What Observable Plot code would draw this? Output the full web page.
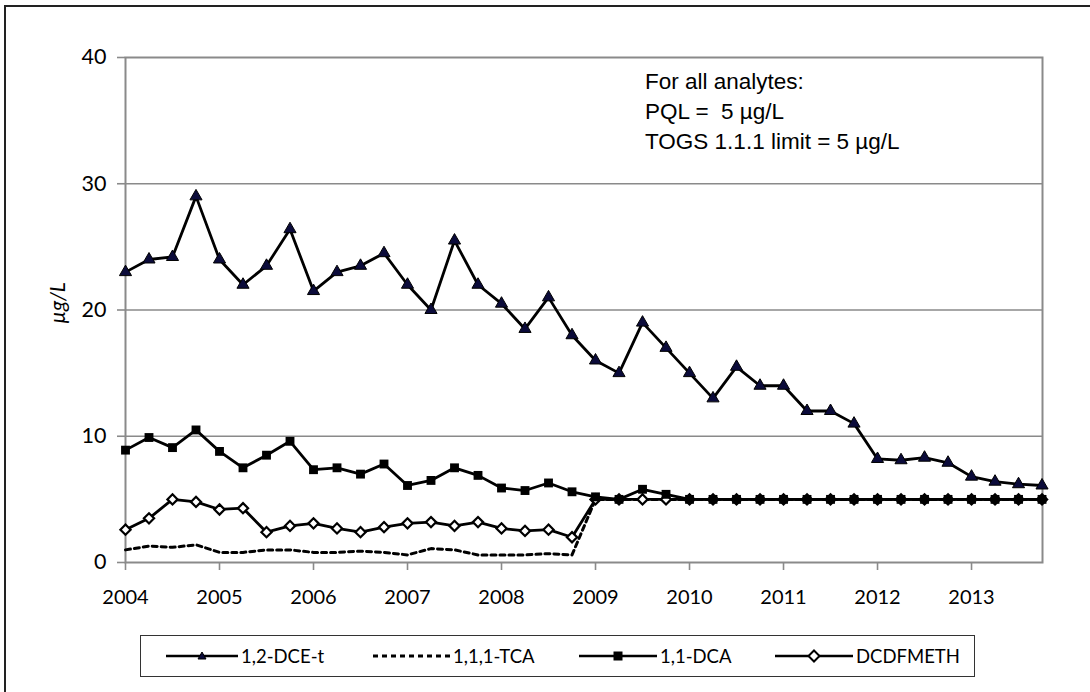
<!DOCTYPE html>
<html><head><meta charset="utf-8">
<script src="https://cdn.jsdelivr.net/npm/d3@7"></script>
<script src="https://cdn.jsdelivr.net/npm/@observablehq/plot@0.6"></script>
<style>
body{margin:0;background:#fff;}
#wrap{position:relative;width:1090px;height:692px;overflow:hidden;background:#fff;}
#outer{position:absolute;left:4px;top:5px;width:1200px;height:800px;border-left:2px solid #222;border-top:2px solid #222;}
#chart{position:absolute;left:0;top:0;}
#ylab{position:absolute;left:56px;top:303px;transform:translate(-50%,-50%) rotate(-90deg);font:italic 21px Lato;color:#000;white-space:nowrap;}
#note{position:absolute;left:645px;top:67px;font:22.5px "Liberation Sans",Arial,sans-serif;line-height:30px;white-space:pre;color:#000;}
#legend{position:absolute;left:140px;top:635px;width:835px;height:42px;border:1.5px solid #333;box-sizing:border-box;font:18.5px Lato;color:#000;}
#legend .it{position:absolute;top:0;height:39px;display:flex;align-items:center;}
#legend svg{display:block;margin-right:3px;}
</style></head>
<body>
<div id="wrap">
  <div id="outer"></div>
  <div id="chart"></div>
  <div id="ylab">µg/L</div>
  <div id="note">For all analytes:
PQL =  5 µg/L
TOGS 1.1.1 limit = 5 µg/L</div>
  <div id="legend"></div>
</div>
<script>
// Sampling dates (decimal years, quarterly)
const dates = [2004, 2004.25, 2004.5, 2004.75, 2005, 2005.25, 2005.5, 2005.75,
  2006, 2006.25, 2006.5, 2006.75, 2007, 2007.25, 2007.5, 2007.75,
  2008, 2008.25, 2008.5, 2008.75, 2009, 2009.25, 2009.5, 2009.75,
  2010, 2010.25, 2010.5, 2010.75, 2011, 2011.25, 2011.5, 2011.75,
  2012, 2012.25, 2012.5, 2012.75, 2013, 2013.25, 2013.5, 2013.75];

const seriesNames = ["1,2-DCE-t", "1,1,1-TCA", "1,1-DCA", "DCDFMETH"];

const dceT = [23.0, 24.0, 24.2, 29.0, 24.0, 22.0, 23.5, 26.4, 21.5, 23.0, 23.5, 24.5,
  22.0, 20.0, 25.5, 22.0, 20.5, 18.5, 21.0, 18.0, 16.0, 15.0, 19.0, 17.0,
  15.0, 13.0, 15.5, 14.0, 14.0, 12.0, 12.0, 11.0, 8.2, 8.1, 8.3, 7.9, 6.8, 6.4, 6.2, 6.1];

const tca = [1.0, 1.3, 1.2, 1.4, 0.8, 0.8, 1.0, 1.0, 0.8, 0.8, 0.9, 0.8,
  0.6, 1.1, 1.0, 0.6, 0.6, 0.6, 0.7, 0.6, 5, 5, 5, 5,
  5, 5, 5, 5, 5, 5, 5, 5, 5, 5, 5, 5, 5, 5, 5, 5];

const dca = [8.9, 9.9, 9.1, 10.5, 8.8, 7.5, 8.5, 9.6, 7.35, 7.5, 7.0, 7.8,
  6.1, 6.5, 7.5, 6.9, 5.9, 5.7, 6.3, 5.6, 5.2, 5.0, 5.8, 5.4,
  5, 5, 5, 5, 5, 5, 5, 5, 5, 5, 5, 5, 5, 5, 5, 5];

const dcdf = [2.6, 3.5, 5.0, 4.8, 4.2, 4.3, 2.4, 2.9, 3.1, 2.7, 2.4, 2.8,
  3.1, 3.2, 2.9, 3.2, 2.7, 2.5, 2.6, 2.0, 5, 5, 5, 5,
  5, 5, 5, 5, 5, 5, 5, 5, 5, 5, 5, 5, 5, 5, 5, 5];

const yTicks = [0, 10, 20, 30, 40];
const xTicks = [2004, 2005, 2006, 2007, 2008, 2009, 2010, 2011, 2012, 2013];

const toRows = vals => dates.map((d, i) => ({x: d, y: vals[i]}));
const rDce = toRows(dceT), rTca = toRows(tca), rDca = toRows(dca), rDcdf = toRows(dcdf);

const chart = Plot.plot({
  width: 1090, height: 620,
  marginLeft: 125, marginRight: 48, marginTop: 57, marginBottom: 58,
  style: {fontFamily: "Lato", fontSize: "21px", color: "#000", background: "transparent", overflow: "visible"},
  x: {domain: [2004, 2013.755]},
  y: {domain: [0, 40]},
  marks: [
    Plot.gridY([10, 20, 30], {stroke: "#8a8a8a", strokeOpacity: 1, strokeWidth: 1.6}),
    Plot.frame({stroke: "#8a8a8a", strokeWidth: 2}),
    Plot.axisY(yTicks, {tickSize: 8, tickPadding: 11, stroke: "#8a8a8a", strokeWidth: 1.6, label: null, fontSize: 21.5, fill: "#000"}),
    Plot.axisX(xTicks, {tickSize: 8, tickPadding: 19, stroke: "#8a8a8a", strokeWidth: 1.6, tickFormat: d => String(d), label: null, fontSize: 20, fill: "#000"}),
    Plot.line(rTca, {x: "x", y: "y", stroke: "#000", strokeWidth: 3, strokeDasharray: "5,4"}),
    Plot.line(rDce, {x: "x", y: "y", stroke: "#000", strokeWidth: 2.8}),
    Plot.dot(rDce, {x: "x", y: "y", symbol: "triangle", r: 4.5, fill: "#0b0b3a", stroke: "#000", strokeWidth: 1}),
    Plot.line(rDcdf, {x: "x", y: "y", stroke: "#000", strokeWidth: 2.8}),
    Plot.dot(rDcdf, {x: "x", y: "y", symbol: "diamond2", r: 4.6, fill: "#fff", stroke: "#000", strokeWidth: 2.2}),
    Plot.line(rDca, {x: "x", y: "y", stroke: "#000", strokeWidth: 2.8}),
    Plot.dot(rDca, {x: "x", y: "y", symbol: "square", r: 5, fill: "#000", stroke: "none"})
  ]
});
document.getElementById("chart").appendChild(chart);

// Legend
const legendItems = [
  {name: seriesNames[0], left: 25, w: 72, dash: null, marker: "tri"},
  {name: seriesNames[1], left: 232, w: 77, dash: "5,4", marker: null},
  {name: seriesNames[2], left: 438, w: 78, dash: null, marker: "sq"},
  {name: seriesNames[3], left: 634, w: 78, dash: null, marker: "dia"}
];
const leg = document.getElementById("legend");
for (const it of legendItems) {
  const div = document.createElement("div");
  div.className = "it";
  div.style.left = it.left + "px";
  const w = it.w, h = 16, cx = w / 2, cy = 8;
  let m = "";
  if (it.marker === "tri") m = `<path d="M${cx},${cy-4}L${cx+4},${cy+3}L${cx-4},${cy+3}Z" fill="#0b0b3a" stroke="#000" stroke-width="1"/>`;
  if (it.marker === "sq") m = `<rect x="${cx-4.5}" y="${cy-4.5}" width="9" height="9" fill="#000"/>`;
  if (it.marker === "dia") m = `<path d="M${cx},${cy-5.5}L${cx+5.5},${cy}L${cx},${cy+5.5}L${cx-5.5},${cy}Z" fill="#fff" stroke="#000" stroke-width="2"/>`;
  div.innerHTML = `<svg width="${w}" height="${h}"><line x1="0" x2="${w}" y1="${cy}" y2="${cy}" stroke="#000" stroke-width="${it.dash ? 3 : 2.5}" ${it.dash ? `stroke-dasharray="${it.dash}"` : ""}/>${m}</svg><span>${it.name}</span>`;
  leg.appendChild(div);
}
</script>
</body></html>
